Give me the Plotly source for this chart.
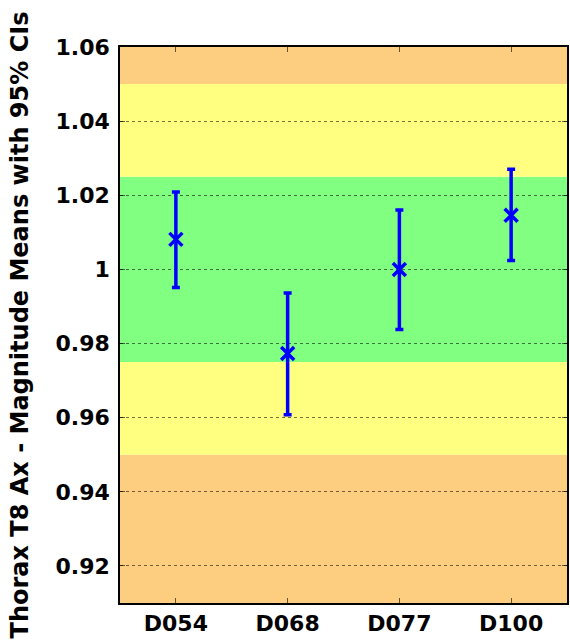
import plotly.graph_objects as go

categories = ["D054", "D068", "D077", "D100"]
means = [1.0081, 0.9773, 1.0000, 1.0146]
upper = [1.0209, 0.9936, 1.0160, 1.0270]
lower = [0.9951, 0.9608, 0.9838, 1.0024]

bands = [  # (y0, y1, color)
    (0.90, 0.95, "#FDCD80"),
    (0.95, 0.975, "#FFFF80"),
    (0.975, 1.025, "#80FF80"),
    (1.025, 1.05, "#FFFF80"),
    (1.05, 1.07, "#FDCD80"),
]
yticks = [0.92, 0.94, 0.96, 0.98, 1.00, 1.02, 1.04, 1.06]
yticktext = ["0.92", "0.94", "0.96", "0.98", "1", "1.02", "1.04", "1.06"]

x = list(range(len(categories)))
fig = go.Figure()
fig.add_trace(go.Scatter(
    x=x, y=means, mode="markers",
    marker=dict(symbol="x-thin", size=13, color="#0000FF",
                line=dict(color="#0000FF", width=3.5)),
    error_y=dict(type="data", symmetric=False,
                 array=[u - m for u, m in zip(upper, means)],
                 arrayminus=[m - l for m, l in zip(means, lower)],
                 color="#0000FF", thickness=3.5, width=4),
    showlegend=False,
))
for y0, y1, c in bands:
    fig.add_shape(type="rect", xref="paper", yref="y", x0=0, x1=1, y0=y0, y1=y1,
                  fillcolor=c, line=dict(width=0), layer="below")

font = dict(family="DejaVu Sans, Arial, sans-serif", color="black")
fig.update_layout(
    width=570, height=642,
    margin=dict(l=120, r=1, t=47, b=39),
    paper_bgcolor="white", plot_bgcolor="rgba(0,0,0,0)",
    font=font,
    xaxis=dict(range=[-0.5, 3.5], tickvals=x, ticktext=[f"<b>{c}</b>" for c in categories],
               tickfont=dict(size=22), showgrid=False, zeroline=False,
               showline=True, linecolor="black", linewidth=1.5, mirror="ticks",
               ticks="inside", ticklen=5, tickcolor="rgba(0,0,0,0.6)"),
    yaxis=dict(range=[0.91, 1.06], tickvals=yticks,
               ticktext=[f"<b>{t}</b>" for t in yticktext],
               tickfont=dict(size=22), ticklabelstandoff=4,
               showgrid=True, griddash="dot",
               gridcolor="rgba(0,0,0,0.55)", gridwidth=1, zeroline=False,
               showline=True, linecolor="black", linewidth=1.5, mirror="ticks",
               ticks="inside", ticklen=5, tickcolor="rgba(0,0,0,0.6)",
               title=dict(text="<b>Thorax T8 Ax - Magnitude Means with 95% CIs</b>",
                          font=dict(size=24), standoff=20)),
)
fig.write_html("out.html", config={"displayModeBar": False},
               post_script="document.body.style.margin='0';")
